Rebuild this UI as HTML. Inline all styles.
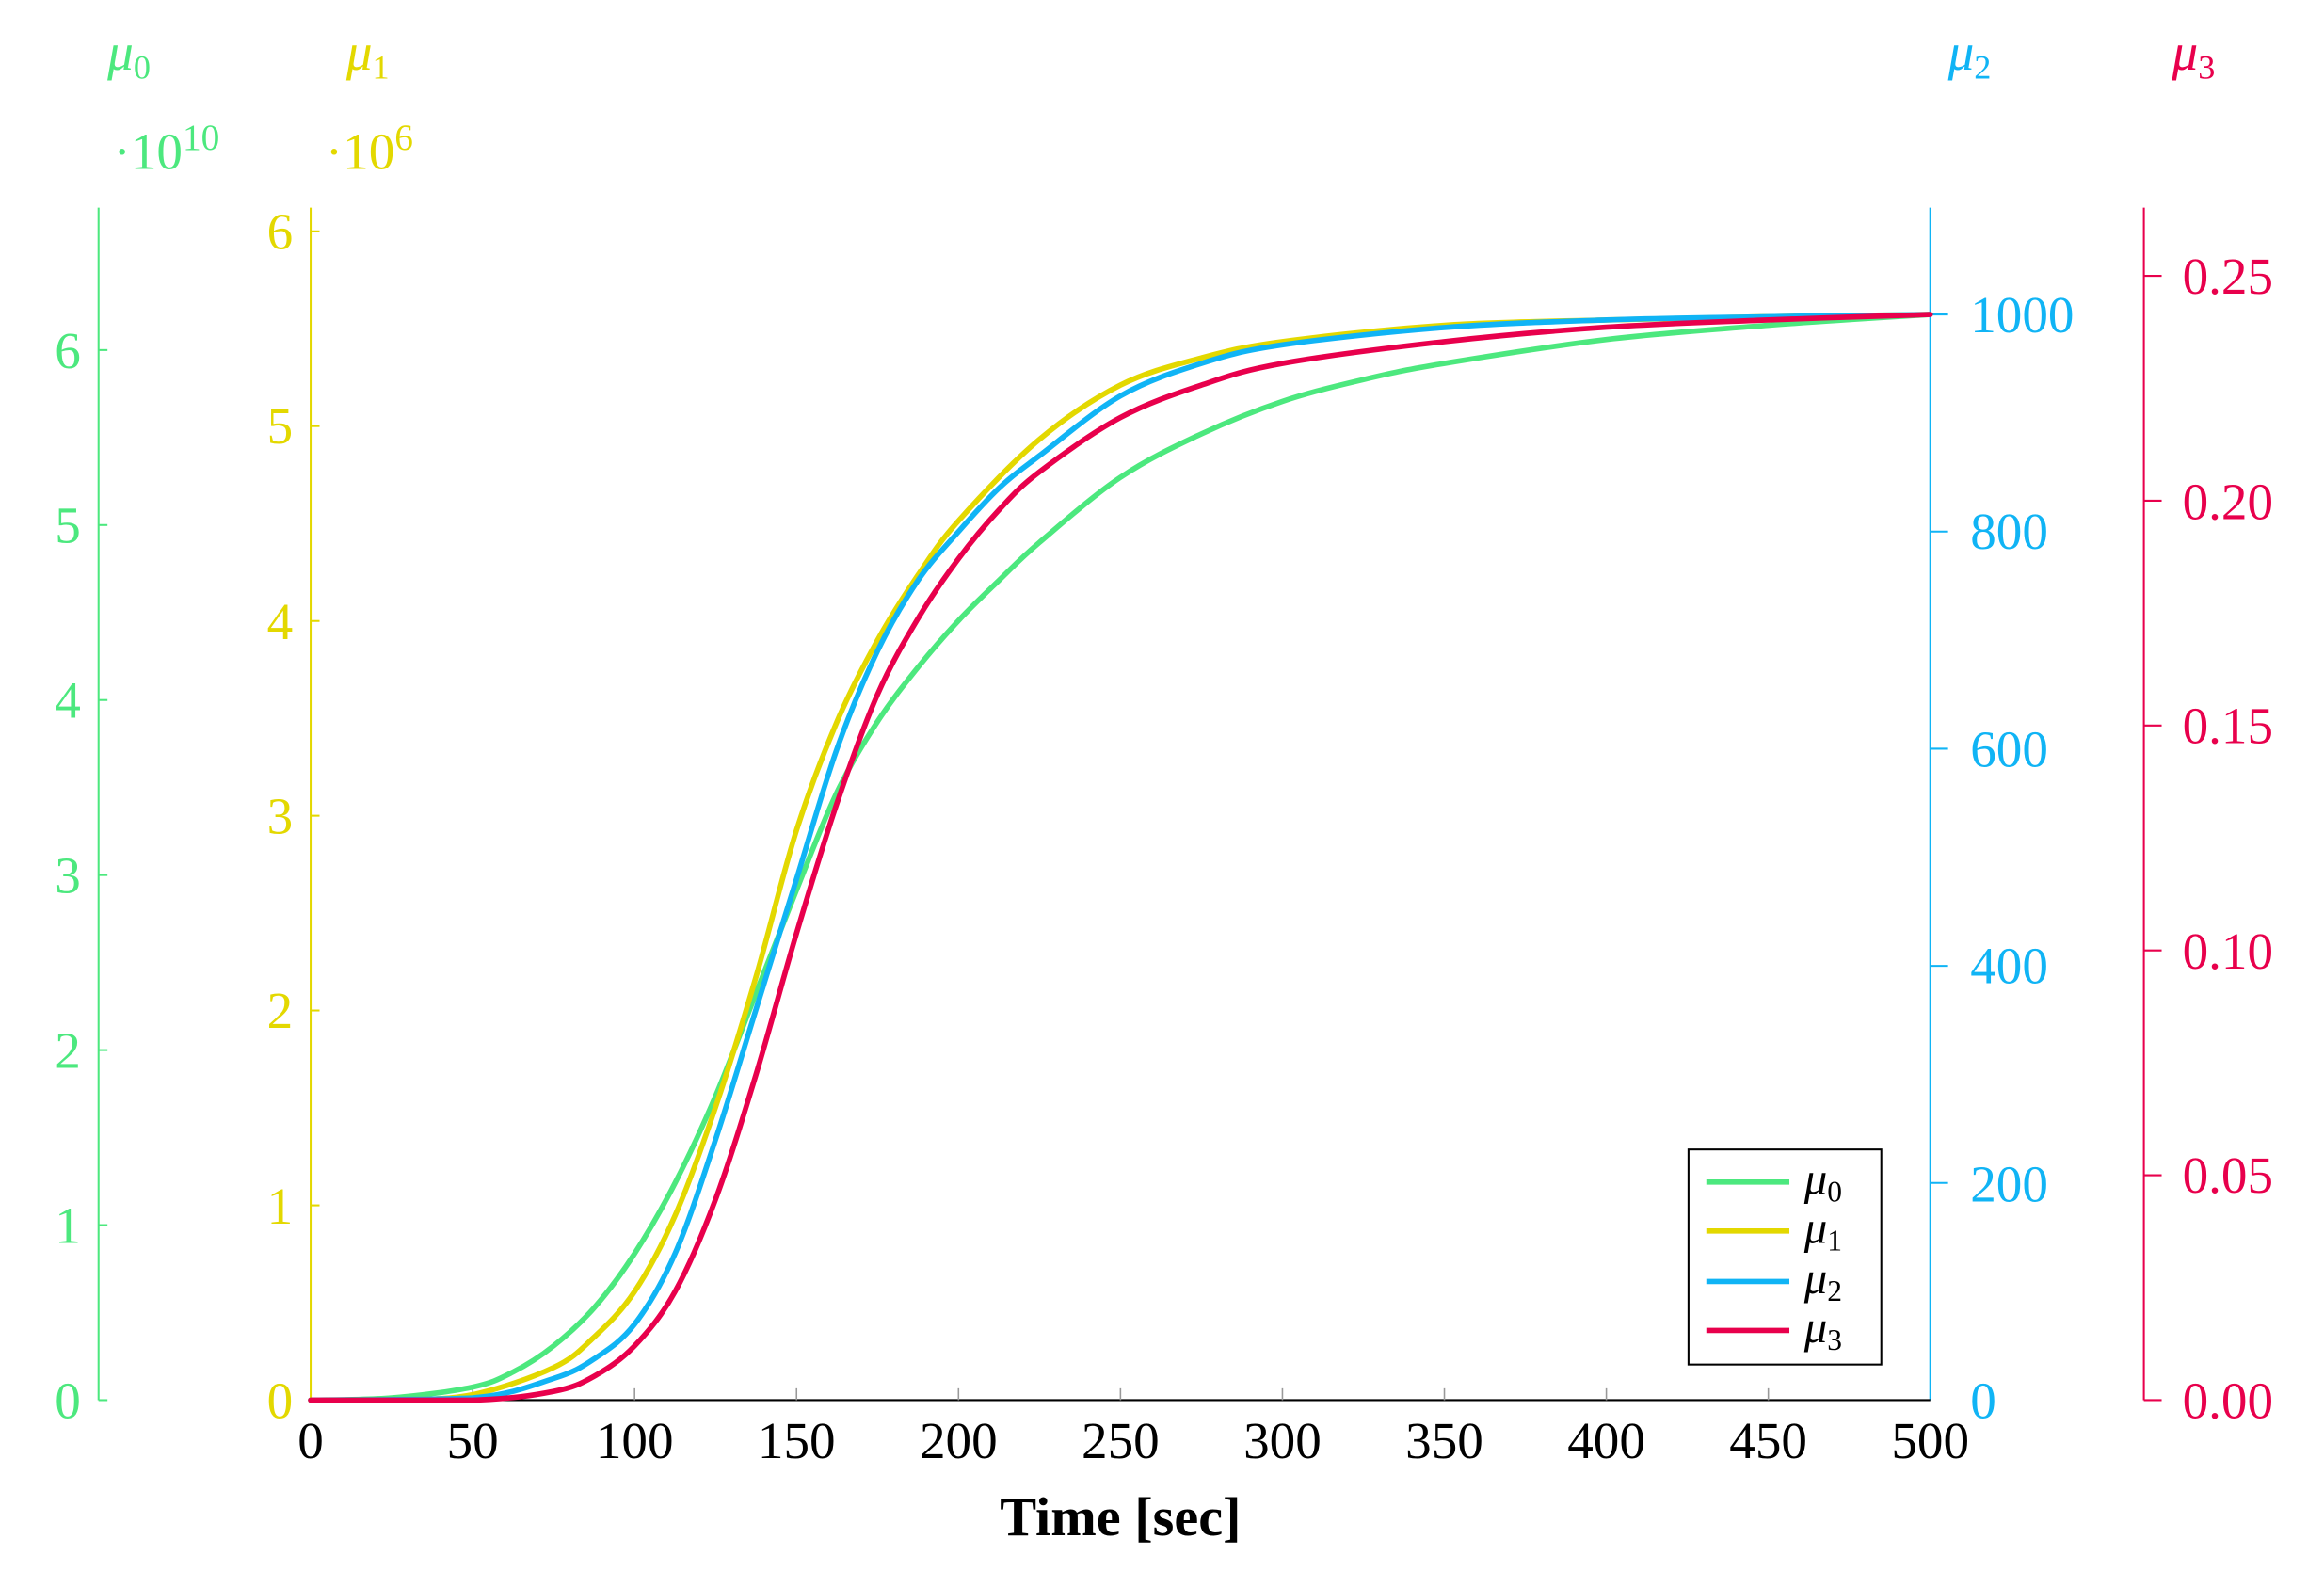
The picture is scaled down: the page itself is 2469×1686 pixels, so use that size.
<!DOCTYPE html>
<html><head><meta charset="utf-8"><style>html,body{margin:0;padding:0;background:#fff}svg{display:block}</style></head>
<body>
<svg width="2469" height="1686" viewBox="0 0 1566 1070" xmlns="http://www.w3.org/2000/svg" font-family="'Liberation Serif', serif">
<rect width="1566" height="1070" fill="#fff"/>
<!-- mu0 axis -->
<g stroke="#4ce87e" stroke-width="1.3"><line x1="66" y1="140" x2="66" y2="944"/>
<line x1="66" y1="944" x2="72" y2="944"/><line x1="66" y1="826" x2="72" y2="826"/><line x1="66" y1="708" x2="72" y2="708"/><line x1="66" y1="590" x2="72" y2="590"/><line x1="66" y1="472" x2="72" y2="472"/><line x1="66" y1="354" x2="72" y2="354"/><line x1="66" y1="236" x2="72" y2="236"/></g>
<g fill="#4ce87e" font-size="35" text-anchor="end"><text x="54" y="956">0</text><text x="54" y="838">1</text><text x="54" y="720">2</text><text x="54" y="602">3</text><text x="54" y="484">4</text><text x="54" y="366">5</text><text x="54" y="248">6</text></g>
<text x="72" y="47" fill="#4ce87e" font-size="35" font-style="italic">μ<tspan font-size="23" dy="6" font-style="normal">0</tspan></text>
<text x="76" y="114" fill="#4ce87e" font-size="35">·10<tspan font-size="25" dy="-13">10</tspan></text>
<!-- mu1 axis -->
<g stroke="#e3d800" stroke-width="1.3"><line x1="209" y1="140" x2="209" y2="944"/>
<line x1="209" y1="812.7" x2="215" y2="812.7"/><line x1="209" y1="681.3" x2="215" y2="681.3"/><line x1="209" y1="550" x2="215" y2="550"/><line x1="209" y1="418.7" x2="215" y2="418.7"/><line x1="209" y1="287.3" x2="215" y2="287.3"/><line x1="209" y1="156" x2="215" y2="156"/></g>
<g fill="#e3d800" font-size="35" text-anchor="end"><text x="197" y="956">0</text><text x="197" y="825">1</text><text x="197" y="693">2</text><text x="197" y="562">3</text><text x="197" y="431">4</text><text x="197" y="299">5</text><text x="197" y="168">6</text></g>
<text x="233" y="47" fill="#e3d800" font-size="35" font-style="italic">μ<tspan font-size="23" dy="6" font-style="normal">1</tspan></text>
<text x="219" y="114" fill="#e3d800" font-size="35">·10<tspan font-size="25" dy="-13">6</tspan></text>
<!-- mu2 axis -->
<g stroke="#10b4f5" stroke-width="1.3"><line x1="1301" y1="140" x2="1301" y2="944"/>
<line x1="1301" y1="797.6" x2="1313" y2="797.6"/><line x1="1301" y1="651.2" x2="1313" y2="651.2"/><line x1="1301" y1="504.8" x2="1313" y2="504.8"/><line x1="1301" y1="358.4" x2="1313" y2="358.4"/><line x1="1301" y1="212" x2="1313" y2="212"/></g>
<g fill="#10b4f5" font-size="35"><text x="1328" y="956">0</text><text x="1328" y="810">200</text><text x="1328" y="663">400</text><text x="1328" y="517">600</text><text x="1328" y="370">800</text><text x="1328" y="224">1000</text></g>
<text x="1313" y="47" fill="#10b4f5" font-size="35" font-style="italic">μ<tspan font-size="23" dy="6" font-style="normal">2</tspan></text>
<!-- mu3 axis -->
<g stroke="#e8004c" stroke-width="1.3"><line x1="1445" y1="140" x2="1445" y2="944"/>
<line x1="1445" y1="944" x2="1457" y2="944"/><line x1="1445" y1="792.4" x2="1457" y2="792.4"/><line x1="1445" y1="640.8" x2="1457" y2="640.8"/><line x1="1445" y1="489.2" x2="1457" y2="489.2"/><line x1="1445" y1="337.6" x2="1457" y2="337.6"/><line x1="1445" y1="186" x2="1457" y2="186"/></g>
<g fill="#e8004c" font-size="35"><text x="1471" y="956">0.00</text><text x="1471" y="804">0.05</text><text x="1471" y="653">0.10</text><text x="1471" y="501">0.15</text><text x="1471" y="350">0.20</text><text x="1471" y="198">0.25</text></g>
<text x="1464" y="47" fill="#e8004c" font-size="35" font-style="italic">μ<tspan font-size="23" dy="6" font-style="normal">3</tspan></text>
<!-- x axis -->
<line x1="209" y1="944" x2="1301" y2="944" stroke="#000" stroke-width="1.3"/>
<g stroke="#999" stroke-width="1"><line x1="318.2" y1="944" x2="318.2" y2="936"/><line x1="427.4" y1="944" x2="427.4" y2="936"/><line x1="536.6" y1="944" x2="536.6" y2="936"/><line x1="645.8" y1="944" x2="645.8" y2="936"/><line x1="755" y1="944" x2="755" y2="936"/><line x1="864.2" y1="944" x2="864.2" y2="936"/><line x1="973.4" y1="944" x2="973.4" y2="936"/><line x1="1082.6" y1="944" x2="1082.6" y2="936"/><line x1="1191.8" y1="944" x2="1191.8" y2="936"/></g>
<g fill="#000" font-size="35" text-anchor="middle"><text x="209" y="983">0</text><text x="318.2" y="983">50</text><text x="427.4" y="983">100</text><text x="536.6" y="983">150</text><text x="645.8" y="983">200</text><text x="755" y="983">250</text><text x="864.2" y="983">300</text><text x="973.4" y="983">350</text><text x="1082.6" y="983">400</text><text x="1191.8" y="983">450</text><text x="1301" y="983">500</text></g>
<text x="755" y="1035" fill="#000" font-size="37" font-weight="bold" text-anchor="middle">Time [sec]</text>
<!-- curves -->
<g fill="none" stroke-width="3.6" stroke-linejoin="round" stroke-linecap="round">
<polyline id="c0" stroke="#4ce87e" points="209,944 263.6,942.5 318.2,935.2 345.5,925 372.8,907.4 400.1,881.8 427.4,845.2 454.7,797.6 482,739 509.3,669.5 536.6,600 563.9,534.1 591.2,486.5 618.5,449.9 645.8,418.4 673.1,391.3 700.4,365.7 755,321.8 809.6,292.5 864.2,270.6 918.8,255.9 973.4,245 1082.6,228.9 1191.8,219.3 1301,212"/>
<polyline id="c1" stroke="#e3d800" points="209,944 263.6,944 318.2,940.3 372.8,922 400.1,901.5 427.4,870.8 454.7,819.6 482,746.4 509.3,658.5 536.6,559.7 563.9,486.5 591.2,431.6 618.5,387.7 645.8,351.1 700.4,296.2 755,259.6 809.6,241.3 864.2,230.3 973.4,219.3 1082.6,215.7 1191.8,213.5 1301,212"/>
<polyline id="c2" stroke="#10b4f5" points="209,944 318.2,942.5 372.8,929.4 400.1,916.2 427.4,892.8 454.7,845.2 482,768.3 509.3,680.5 536.6,592.6 563.9,504.8 591.2,438.9 618.5,391.3 645.8,358.4 673.1,329.1 700.4,307.2 755,266.9 809.6,245 864.2,232.5 973.4,220.8 1082.6,215.7 1191.8,213.5 1301,212"/>
<polyline id="c3" stroke="#e8004c" points="209,944 318.2,944 372.8,938.1 400.1,927.9 427.4,907.4 454.7,870.8 482,808.6 509.3,724.4 536.6,629.2 563.9,541.4 591.2,468.2 618.5,417 645.8,376.7 673.1,343.8 700.4,318.1 755,281.5 809.6,259.6 864.2,245 973.4,230.3 1082.6,220.6 1191.8,215.7 1301,212"/>
</g>
<!-- legend -->
<rect x="1138" y="775" width="130" height="145" fill="#fff" stroke="#000" stroke-width="1.3"/>
<g stroke-width="3.6"><line x1="1150" y1="797" x2="1206" y2="797" stroke="#4ce87e"/><line x1="1150" y1="830" x2="1206" y2="830" stroke="#e3d800"/><line x1="1150" y1="864" x2="1206" y2="864" stroke="#10b4f5"/><line x1="1150" y1="897" x2="1206" y2="897" stroke="#e8004c"/></g>
<g fill="#000" font-size="31" font-style="italic"><text x="1216" y="805">μ<tspan font-size="20" dy="5" font-style="normal">0</tspan></text><text x="1216" y="838">μ<tspan font-size="20" dy="5" font-style="normal">1</tspan></text><text x="1216" y="872">μ<tspan font-size="20" dy="5" font-style="normal">2</tspan></text><text x="1216" y="905">μ<tspan font-size="20" dy="5" font-style="normal">3</tspan></text></g>
</svg>
<script>
(function(){
  var ns="http://www.w3.org/2000/svg";
  ["c0","c1","c2","c3"].forEach(function(id){
    var pl=document.getElementById(id);
    var pts=pl.getAttribute("points").trim().split(/\s+/).map(function(s){var a=s.split(",");return [+a[0],+a[1]];});
    var d="M"+pts[0][0]+","+pts[0][1];
    for(var i=0;i<pts.length-1;i++){
      var p0=pts[i-1]||pts[i],p1=pts[i],p2=pts[i+1],p3=pts[i+2]||p2;
      var c1x=p1[0]+(p2[0]-p0[0])/6,c1y=p1[1]+(p2[1]-p0[1])/6;
      var c2x=p2[0]-(p3[0]-p1[0])/6,c2y=p2[1]-(p3[1]-p1[1])/6;
      if(c1y>944)c1y=944; if(c2y>944)c2y=944;
      d+=" C"+c1x.toFixed(2)+","+c1y.toFixed(2)+" "+c2x.toFixed(2)+","+c2y.toFixed(2)+" "+p2[0]+","+p2[1];
    }
    var p=document.createElementNS(ns,"path");
    p.setAttribute("d",d);p.setAttribute("stroke",pl.getAttribute("stroke"));
    pl.parentNode.replaceChild(p,pl);
  });
})();
</script>
</body></html>
